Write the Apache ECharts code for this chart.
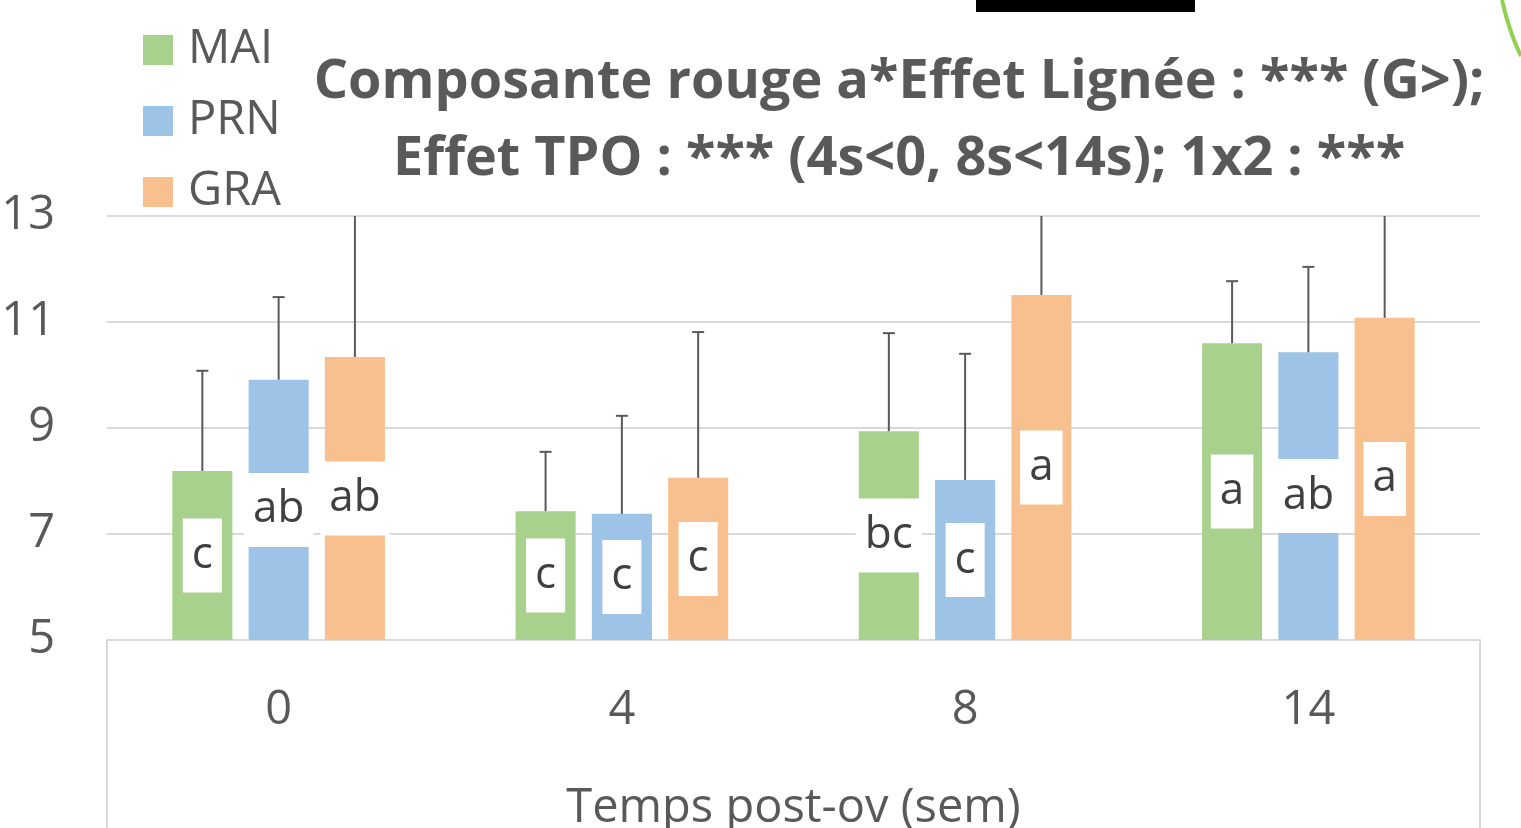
<!DOCTYPE html>
<html>
<head>
<meta charset="utf-8">
<script src="https://cdn.jsdelivr.net/npm/echarts@6/dist/echarts.min.js"></script>
<style>
  html, body { margin: 0; padding: 0; background: #fff; }
  #chart { width: 1521px; height: 828px; }
</style>
</head>
<body>
<div id="chart"></div>
<script>
// catégories (semaines post-ovulation)
var categories = ['0', '4', '8', '14'];

// moyennes par lignée
var maiValues = [8.19, 7.43, 8.94, 10.60];
var prnValues = [9.91, 7.38, 8.02, 10.43];
var graValues = [10.34, 8.06, 11.51, 11.08];

// haut des barres d'erreur (moyenne + écart)
var maiErrTop = [10.08, 8.55, 10.79, 11.77];
var prnErrTop = [11.47, 9.23, 10.40, 12.04];
var graErrTop = [13.6, 10.81, 13.9, 13.7];

// lettres de significativité
var maiLetters = ['c', 'c', 'bc', 'a'];
var prnLetters = ['ab', 'c', 'c', 'ab'];
var graLetters = ['ab', 'c', 'a', 'a'];

var yTicks = [5, 7, 9, 11, 13];

var FONT = 'Open Sans';
var GREY = '#595959';
var BAR_W = 0.175, BAR_GAP = 0.27;

function barSeries(name, color, values, letters) {
  return {
    name: name,
    type: 'bar',
    barWidth: (BAR_W * 100) + '%',
    barGap: (BAR_GAP * 100) + '%',
    itemStyle: { color: color },
    data: values.map(function (v, i) {
      return { value: v, label: { formatter: letters[i] } };
    }),
    label: {
      show: true,
      position: 'inside',
      color: '#404040',
      fontFamily: FONT,
      fontSize: 44,
      backgroundColor: '#ffffff',
      padding: [15, 9]
    }
  };
}

function errSeries(name, shift, tops, values) {
  return {
    name: name,
    type: 'custom',
    z: 5,
    data: tops.map(function (t, i) { return [i, t, values[i]]; }),
    encode: { x: 0, y: 1 },
    renderItem: function (params, api) {
      var cat = api.value(0);
      var pTop = api.coord([cat, api.value(1)]);
      var pBase = api.coord([cat, api.value(2)]);
      var band = api.size([1, 0])[0];
      var x = pTop[0] + shift * band * BAR_W * (1 + BAR_GAP);
      var cs = params.coordSys;
      var yTop = Math.max(pTop[1], cs.y);
      var style = { stroke: '#595959', lineWidth: 2 };
      var children = [{
        type: 'line',
        shape: { x1: x, y1: pBase[1], x2: x, y2: yTop },
        style: style
      }];
      if (pTop[1] >= cs.y) {
        children.push({
          type: 'line',
          shape: { x1: x - 6, y1: yTop, x2: x + 6, y2: yTop },
          style: style
        });
      }
      return { type: 'group', children: children };
    }
  };
}

var chart = echarts.init(document.getElementById('chart'));
chart.setOption({
  animation: false,
  backgroundColor: '#ffffff',
  title: {
    text: 'Composante rouge a*Effet Lignée : *** (G>);\nEffet TPO : *** (4s<0, 8s<14s); 1x2 : ***',
    left: 899,
    top: 44,
    padding: 0,
    textAlign: 'center',
    textStyle: {
      fontFamily: FONT,
      fontWeight: 'bold',
      fontSize: 54,
      lineHeight: 77,
      color: GREY
    }
  },
  legend: {
    data: ['MAI', 'PRN', 'GRA'],
    orient: 'vertical',
    left: 143,
    top: 25,
    padding: 0,
    icon: 'rect',
    itemWidth: 30,
    itemHeight: 30,
    itemGap: 21,
    textStyle: {
      fontFamily: FONT,
      fontSize: 47,
      lineHeight: 50,
      color: GREY,
      padding: [0, 0, 0, 10]
    }
  },
  grid: { left: 107, right: 41, top: 216, bottom: 188, outerBoundsMode: 'none' },
  xAxis: {
    type: 'category',
    data: categories,
    name: 'Temps post-ov (sem)',
    nameLocation: 'middle',
    nameGap: 145,
    nameTextStyle: { fontFamily: FONT, fontSize: 47, color: GREY },
    axisLine: { lineStyle: { color: '#d9d9d9', width: 2 } },
    axisTick: { show: false },
    axisLabel: { fontFamily: FONT, fontSize: 47, color: GREY, margin: 47 }
  },
  yAxis: {
    type: 'value',
    min: yTicks[0],
    max: yTicks[yTicks.length - 1],
    interval: 2,
    axisLine: { show: false },
    axisTick: { show: false },
    splitLine: { lineStyle: { color: '#d9d9d9', width: 2 } },
    axisLabel: { fontFamily: FONT, fontSize: 47, color: GREY, margin: 52 }
  },
  series: [
    barSeries('MAI', '#a9d18e', maiValues, maiLetters),
    barSeries('PRN', '#9dc3e6', prnValues, prnLetters),
    barSeries('GRA', '#f8c08f', graValues, graLetters),
    errSeries('errMAI', -1, maiErrTop, maiValues),
    errSeries('errPRN', 0, prnErrTop, prnValues),
    errSeries('errGRA', 1, graErrTop, graValues)
  ],
  graphic: [
    // cadre sous l'axe des abscisses
    { type: 'line', shape: { x1: 107, y1: 640, x2: 107, y2: 828 }, style: { stroke: '#d9d9d9', lineWidth: 2 } },
    { type: 'line', shape: { x1: 1480, y1: 640, x2: 1480, y2: 828 }, style: { stroke: '#d9d9d9', lineWidth: 2 } },
    // éléments de la diapositive
    { type: 'rect', shape: { x: 976, y: 0, width: 219, height: 12 }, style: { fill: '#000' } },
    { type: 'bezierCurve', shape: { x1: 1502, y1: 0, cpx1: 1507, cpy1: 22, cpx2: 1513, cpy2: 40, x2: 1521, y2: 56 }, style: { stroke: '#92d050', lineWidth: 4, fill: null } }
  ]
});
</script>
</body>
</html>
